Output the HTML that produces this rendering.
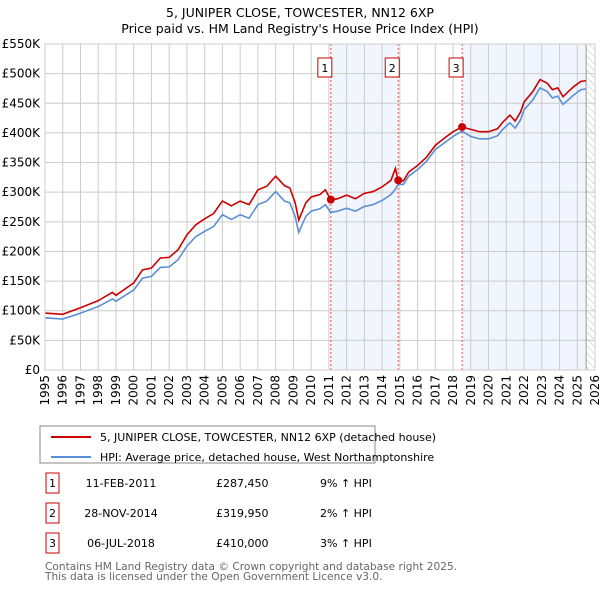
<!DOCTYPE html>
<html><head><meta charset="utf-8"><style>
body{margin:0;background:#fff;font-family:"Liberation Sans","DejaVu Sans",sans-serif;}
svg text{font-family:"DejaVu Sans","Liberation Sans",sans-serif;}
</style></head><body>
<svg id="c" width="600" height="590" xmlns="http://www.w3.org/2000/svg">
<defs><pattern id="hatch" width="5" height="5" patternUnits="userSpaceOnUse" patternTransform="rotate(-45)"><line x1="0" y1="0" x2="0" y2="5" stroke="#bbb" stroke-width="1"/></pattern></defs>
<text x="300" y="17" text-anchor="middle" font-size="12.5">5, JUNIPER CLOSE, TOWCESTER, NN12 6XP</text>
<text x="300" y="33" text-anchor="middle" font-size="12.5">Price paid vs. HM Land Registry's House Price Index (HPI)</text>
<g id="plot"></g>
<rect x="40" y="426" width="335" height="37" fill="#fff" stroke="#888"/>
<g><line x1="51" y1="437" x2="91" y2="437" stroke="#cc0000" stroke-width="2"/><text x="100" y="441" font-size="11">5, JUNIPER CLOSE, TOWCESTER, NN12 6XP (detached house)</text></g>
<g><line x1="51" y1="457" x2="91" y2="457" stroke="#5b8fd4" stroke-width="2"/><text x="100" y="461" font-size="11">HPI: Average price, detached house, West Northamptonshire</text></g>
<g id="tbl" font-size="11"></g>
<text x="45" y="570" font-size="10.6" fill="#666">Contains HM Land Registry data © Crown copyright and database right 2025.</text>
<text x="45" y="580" font-size="10.6" fill="#666">This data is licensed under the Open Government Licence v3.0.</text>
</svg>
<script>
const hpiYears=[1995,1996,1997,1998,1998.8,1999,2000,2000.5,2001,2001.5,2002,2002.5,2003,2003.5,2004,2004.5,2005,2005.5,2006,2006.5,2007,2007.5,2008,2008.5,2008.8,2009.1,2009.3,2009.7,2010,2010.5,2010.8,2011.1,2011.5,2012,2012.5,2013,2013.5,2014,2014.5,2014.75,2014.9,2015.2,2015.5,2016,2016.5,2017,2017.5,2018,2018.5,2019,2019.5,2020,2020.5,2020.8,2021.2,2021.5,2021.8,2022,2022.5,2022.9,2023.3,2023.6,2023.9,2024.2,2024.5,2024.8,2025.2,2025.5];
const hpiValues=[88,86,96,107,120,116,135,155,158,173,174,186,209,225,234,242,262,254,262,256,279,285,301,285,282,259,232,259,268,272,279,266,268,273,268,276,279,286,296,305,313,313,327,338,352,372,383,394,403,394,390,390,395,406,417,408,422,439,456,476,470,459,462,448,456,464,473,474];
const priceValues=[96,94,105,117,131,126,147,169,172,189,190,203,228,245,255,264,285,277,285,279,304,310,327,311,307,282,253,282,292,296,304,287,289,295,289,298,301,309,320,340,320,319,334,345,359,379,391,402,410,406,402,402,407,418,430,420,435,452,470,490,484,473,476,461,470,478,487,488];
const saleDates=[2011.11,2014.91,2018.51];
const salePrices=[287450,319950,410000];
const saleLabels=["11-FEB-2011","28-NOV-2014","06-JUL-2018"];
const salePriceText=["£287,450","£319,950","£410,000"];
const saleHpiText=["9% ↑ HPI","2% ↑ HPI","3% ↑ HPI"];
const yTicks=[0,50,100,150,200,250,300,350,400,450,500,550];
const yTickLabels=["£0","£50K","£100K","£150K","£200K","£250K","£300K","£350K","£400K","£450K","£500K","£550K"];
const xTicks=[1995,1996,1997,1998,1999,2000,2001,2002,2003,2004,2005,2006,2007,2008,2009,2010,2011,2012,2013,2014,2015,2016,2017,2018,2019,2020,2021,2022,2023,2024,2025,2026];
const dataEnd=2025.5;
const L=45,R=595,T=44,B=370;
const X=y=>L+(y-1995)/(2026-1995)*(R-L);
const Y=v=>B-v/550*(B-T);
const NS="http://www.w3.org/2000/svg";
const plot=document.getElementById('plot');
function mk(tag,attrs,parent){const e=document.createElementNS(NS,tag);for(const k in attrs)e.setAttribute(k,attrs[k]);(parent||plot).appendChild(e);return e;}
let e;
e=mk('rect',{x:X(saleDates[0]),y:T,width:X(saleDates[1])-X(saleDates[0]),height:B-T,fill:'#eef3fd',opacity:0.8});


e=mk('rect',{x:X(saleDates[2]),y:T,width:X(dataEnd)-X(saleDates[2]),height:B-T,fill:'#eef3fd',opacity:0.8});


e=mk('rect',{x:X(dataEnd),y:T,width:R-X(dataEnd),height:B-T,fill:'url(#hatch)'});


yTicks.forEach((t,i)=>{
 e=mk('line',{x1:L,x2:R,y1:Y(t),y2:Y(t),stroke:'#ccc','stroke-width':1});
 
 
 e=mk('text',{x:L-5,y:Y(t)+4,'text-anchor':'end','font-size':12});
 e.textContent=yTickLabels[i];
 
 
});
xTicks.forEach(t=>{
 e=mk('line',{x1:X(t),x2:X(t),y1:T,y2:B,stroke:'#ccc','stroke-width':1});
 
 
 e=mk('text',{x:0,y:0,'text-anchor':'end','font-size':12,transform:`translate(${X(t)+4},${B+5}) rotate(-90)`});
 e.textContent=t;
 
 
});
e=mk('line',{x1:X(dataEnd),x2:X(dataEnd),y1:T,y2:B,stroke:'#999','stroke-width':1});


saleDates.forEach((d,i)=>{
 e=mk('line',{x1:X(d),x2:X(d),y1:T,y2:B,stroke:'#e05050','stroke-width':1,'stroke-dasharray':'2,2'});
 
 
 const g=mk('g',{});
 
 
 mk('rect',{x:X(d)-13,y:58,width:14,height:19,fill:'#fff',stroke:'#cc0000'},g);
 const tx=mk('text',{x:X(d)-6,y:72,'text-anchor':'middle','font-size':11},g);tx.textContent=i+1;
});
e=mk('polyline',{points:hpiYears.map((y,i)=>X(y)+','+Y(hpiValues[i])).join(' '),fill:'none',stroke:'#5b8fd4','stroke-width':1.6});


e=mk('polyline',{points:hpiYears.map((y,i)=>X(y)+','+Y(priceValues[i])).join(' '),fill:'none',stroke:'#cc0000','stroke-width':1.6});


saleDates.forEach((d,i)=>{
 e=mk('circle',{cx:X(d),cy:Y(salePrices[i]/1000),r:4,fill:'#cc0000'});
 
 
});
e=mk('rect',{x:L,y:T,width:R-L,height:B-T,fill:'none',stroke:'#ccc'});
const tbl=document.getElementById('tbl');
saleDates.forEach((d,i)=>{
 const y=483+i*30;
 const g=mk('g',{},tbl);
 
 
 mk('rect',{x:46,y:y-10,width:13,height:20,fill:'#fff',stroke:'#cc0000'},g);
 let t=mk('text',{x:52.5,y:y+4,'text-anchor':'middle'},g);t.textContent=i+1;
 t=mk('text',{x:121,y:y+4,'text-anchor':'middle'},g);t.textContent=saleLabels[i];
 t=mk('text',{x:216,y:y+4},g);t.textContent=salePriceText[i];
 t=mk('text',{x:320,y:y+4},g);t.textContent=saleHpiText[i];
});
</script>
</body></html>
